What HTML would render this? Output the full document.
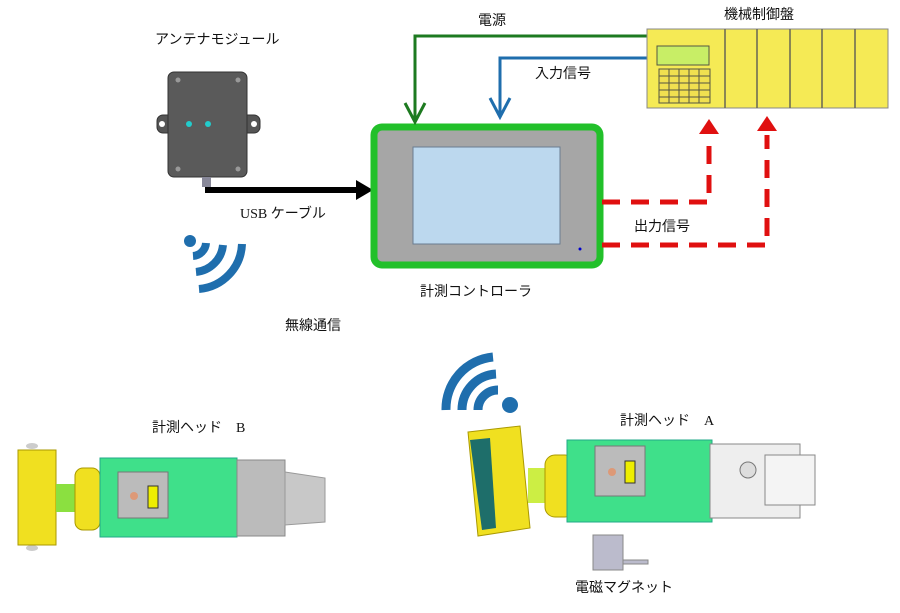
<!DOCTYPE html>
<html><head><meta charset="utf-8"><style>
body{margin:0;background:#fff}
svg text{font-family:"Liberation Serif","Noto Sans CJK JP",sans-serif;font-size:14px;fill:#111}
</style></head><body>
<svg width="900" height="608" viewBox="0 0 900 608" xmlns="http://www.w3.org/2000/svg">
<!-- labels -->
<text x="155" y="44">アンテナモジュール</text>
<text x="240" y="218">USB ケーブル</text>
<text x="285" y="330">無線通信</text>
<text x="420" y="296">計測コントローラ</text>
<text x="478" y="25">電源</text>
<text x="535" y="78">入力信号</text>
<text x="634" y="231">出力信号</text>
<text x="724" y="19">機械制御盤</text>
<text x="152" y="432">計測ヘッド　B</text>
<text x="620" y="425">計測ヘッド　A</text>
<text x="575" y="592">電磁マグネット</text>

<!-- antenna module -->
<rect x="157" y="115" width="103" height="18" rx="6" fill="#555" stroke="#333"/>
<circle cx="162" cy="124" r="3" fill="#fff"/><circle cx="254" cy="124" r="3" fill="#fff"/>
<rect x="168" y="72" width="79" height="105" rx="6" fill="#5a5a5a" stroke="#333"/>
<circle cx="178" cy="80" r="2.5" fill="#999"/><circle cx="238" cy="80" r="2.5" fill="#999"/>
<circle cx="178" cy="169" r="2.5" fill="#999"/><circle cx="238" cy="169" r="2.5" fill="#999"/>
<circle cx="189" cy="124" r="3" fill="#2cc"/><circle cx="208" cy="124" r="3" fill="#2cc"/>
<rect x="202" y="177" width="9" height="10" fill="#889"/>
<!-- black arrow -->
<line x1="205" y1="190" x2="358" y2="190" stroke="#000" stroke-width="6"/>
<polygon points="356,180 373,190 356,200" fill="#000"/>

<!-- wifi left -->
<g fill="none" stroke="#1f6ead" stroke-width="8">
<circle cx="190" cy="241" r="6" fill="#1f6ead" stroke="none"/>
<path d="M193,256 A14,14 0 0 0 206,243"/>
<path d="M196,272 A30,30 0 0 0 223,245"/>
<path d="M199,289 A47,47 0 0 0 242,244"/>
</g>
<!-- wifi right -->
<g fill="none" stroke="#1f6ead" stroke-width="9">
<circle cx="510" cy="405" r="8" fill="#1f6ead" stroke="none"/>
<path d="M478,410 A20,20 0 0 1 498,390"/>
<path d="M462,410 A36,36 0 0 1 496,374"/>
<path d="M446,410 A52,52 0 0 1 493,357"/>
</g>

<!-- controller -->
<rect x="374" y="127" width="226" height="138" rx="8" fill="#a6a6a6" stroke="#22c02a" stroke-width="7"/>
<rect x="413" y="147" width="147" height="97" fill="#bcd8ee" stroke="#6a7c90"/>
<circle cx="580" cy="249" r="1.5" fill="#00c"/>

<!-- green power line -->
<polyline points="647,36 415,36 415,120" fill="none" stroke="#1d7a20" stroke-width="3"/>
<polyline points="405,103 415,122 425,103" fill="none" stroke="#1d7a20" stroke-width="3"/>
<!-- blue input -->
<polyline points="647,58 500,58 500,115" fill="none" stroke="#1f6ead" stroke-width="3"/>
<polyline points="490,98 500,117 510,98" fill="none" stroke="#1f6ead" stroke-width="3"/>

<!-- panel -->
<rect x="647" y="29" width="241" height="79" fill="#f5ea55" stroke="#888"/>
<g stroke="#665" stroke-width="1.5">
<line x1="725" y1="29" x2="725" y2="108"/><line x1="757" y1="29" x2="757" y2="108"/>
<line x1="790" y1="29" x2="790" y2="108"/><line x1="822" y1="29" x2="822" y2="108"/>
<line x1="855" y1="29" x2="855" y2="108"/>
</g>
<rect x="657" y="46" width="52" height="19" fill="#c8ee66" stroke="#554"/>
<rect x="659" y="69" width="51" height="34" fill="#f0e050" stroke="#554"/>
<g stroke="#554"><line x1="659" y1="76" x2="710" y2="76"/><line x1="659" y1="83" x2="710" y2="83"/><line x1="659" y1="90" x2="710" y2="90"/><line x1="659" y1="97" x2="710" y2="97"/>
<line x1="669" y1="69" x2="669" y2="103"/><line x1="679" y1="69" x2="679" y2="103"/><line x1="689" y1="69" x2="689" y2="103"/><line x1="699" y1="69" x2="699" y2="103"/></g>

<!-- red dashed -->
<g fill="none" stroke="#e01010" stroke-width="5" stroke-dasharray="18,11">
<polyline points="602,202 709,202 709,138"/>
<polyline points="602,245 767,245 767,135"/>
</g>
<polygon points="699,134 709,119 719,134" fill="#e01010"/>
<polygon points="757,131 767,116 777,131" fill="#e01010"/>

<!-- head B -->
<ellipse cx="32" cy="446" rx="6" ry="3" fill="#ccc"/><ellipse cx="32" cy="548" rx="6" ry="3" fill="#ccc"/>
<rect x="18" y="450" width="38" height="95" fill="#f0e020" stroke="#a90"/>
<rect x="56" y="484" width="20" height="28" fill="#8be040"/>
<rect x="75" y="468" width="25" height="62" rx="8" fill="#f0e020" stroke="#a90"/>
<rect x="100" y="458" width="137" height="79" fill="#3fe08a" stroke="#2a8"/>
<rect x="118" y="472" width="50" height="46" fill="#bbb" stroke="#777"/>
<rect x="148" y="486" width="10" height="22" fill="#ee0" stroke="#333"/>
<circle cx="134" cy="496" r="4" fill="#d97"/>
<rect x="237" y="460" width="48" height="76" fill="#bbb" stroke="#888"/>
<polygon points="285,472 325,478 325,522 285,525" fill="#c8c8c8" stroke="#999"/>

<!-- head A -->
<polygon points="468,432 520,426 530,528 478,536" fill="#f0e020" stroke="#a90"/>
<polygon points="470,440 490,438 496,528 482,530" fill="#1e6e6a"/>
<rect x="528" y="468" width="35" height="35" fill="#ce4" />
<rect x="545" y="455" width="30" height="62" rx="10" fill="#f0e020" stroke="#a90"/>
<rect x="567" y="440" width="145" height="82" fill="#3fe08a" stroke="#2a8"/>
<rect x="595" y="446" width="50" height="50" fill="#bbb" stroke="#777"/>
<rect x="625" y="461" width="10" height="22" fill="#ee0" stroke="#333"/>
<circle cx="612" cy="472" r="4" fill="#d97"/>
<rect x="710" y="444" width="90" height="74" fill="#eee" stroke="#888"/>
<rect x="765" y="455" width="50" height="50" fill="#f4f4f4" stroke="#888"/>
<circle cx="748" cy="470" r="8" fill="#ddd" stroke="#777"/>
<rect x="593" y="535" width="30" height="35" fill="#bbc" stroke="#888"/>
<rect x="623" y="560" width="25" height="4" fill="#bbc" stroke="#888"/>
</svg>
</body></html>
